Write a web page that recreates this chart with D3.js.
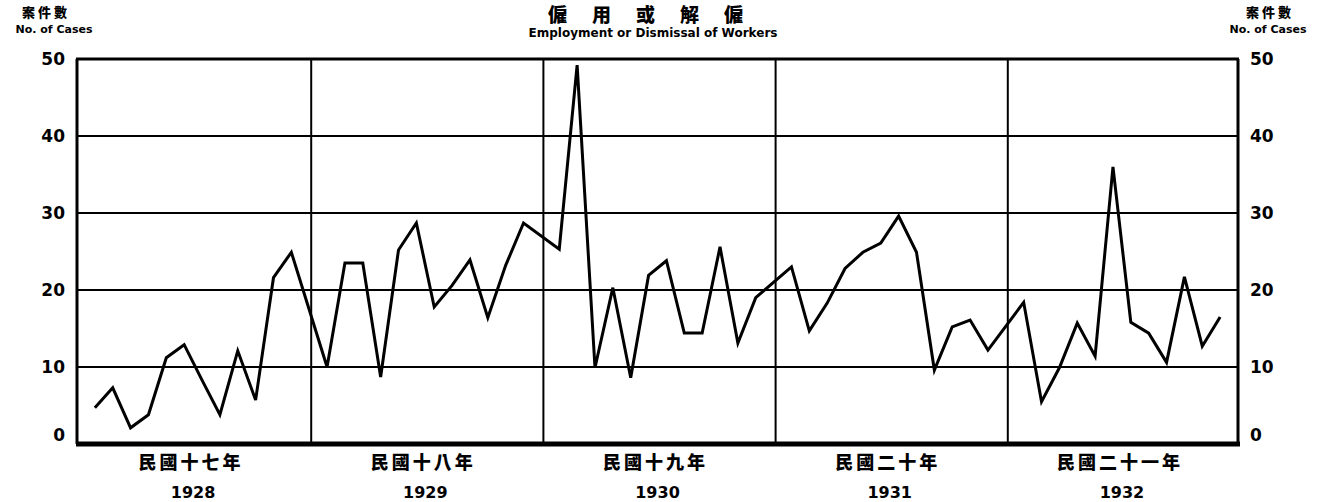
<!DOCTYPE html>
<html>
<head>
<meta charset="utf-8">
<script src="https://cdn.jsdelivr.net/npm/d3@7"></script>
<style>
  body { margin: 0; background: #fff; }
  text { font-family: "DejaVu Sans", sans-serif; font-weight: bold; fill: #000; }
  .cjk { font-family: "Noto Sans CJK TC", "Noto Sans CJK SC", sans-serif; font-weight: 900; }
</style>
</head>
<body>
<script>
var years = [1928, 1929, 1930, 1931, 1932];
var rocLabels = ["民國十七年", "民國十八年", "民國十九年", "民國二十年", "民國二十一年"];
var months = [1, 2, 3, 4, 5, 6, 7, 8, 9, 10, 11, 12];
var yTicks = [0, 10, 20, 30, 40, 50];

// monthly number of cases
var cases1928 = [4.7, 7.3, 2.1, 3.8, 11.2, 12.9, 8.3, 3.8, 12.1, 5.7, 21.6, 24.9];
var cases1929 = [10, 23.5, 23.5, 8.7, 25.2, 28.7, 17.8, 20.6, 23.9, 16.4, 23.2, 28.7];
var cases1930 = [25.3, 49.2, 9.9, 20.3, 8.6, 21.9, 23.8, 14.4, 14.4, 25.6, 13.1, 19];
var cases1931 = [23.0, 14.7, 18.3, 22.8, 24.9, 26.1, 29.6, 24.9, 9.6, 15.2, 16.1, 12.2];
var cases1932 = [18.4, 5.5, 9.9, 15.7, 11.4, 36.0, 15.8, 14.4, 10.6, 21.7, 12.7, 16.5];
var casesByYear = [cases1928, cases1929, cases1930, cases1931, cases1932];

var width = 1318, height = 502;
var margin = { left: 77, right: 1238, top: 59, bottom: 444 };

var svg = d3.select('body')
  .append('svg')
  .attr('width', width)
  .attr('height', height);

svg.append('rect')
  .attr('width', width)
  .attr('height', height)
  .attr('fill', 'white');

var xYear = d3.scaleBand()
  .domain(years)
  .range([margin.left, margin.right])
  .padding(0);

// months sit one step in from each year's edges
var xMonth = d3.scalePoint()
  .domain(months)
  .range([0, xYear.bandwidth()])
  .padding(1);

var y = d3.scaleLinear()
  .domain([0, 50])
  .range([margin.bottom, margin.top]);

var points = [];
years.forEach(function(yr, i) {
  casesByYear[i].forEach(function(v, j) {
    points.push({ year: yr, month: months[j], value: v });
  });
});

// horizontal grid lines
svg.append('g')
  .selectAll('line')
  .data(yTicks.filter(function(d) { return d > 0 && d < 50; }))
  .enter()
  .append('line')
  .attr('x1', margin.left)
  .attr('x2', margin.right)
  .attr('y1', function(d) { return y(d); })
  .attr('y2', function(d) { return y(d); })
  .attr('stroke', 'black')
  .attr('stroke-width', 2);

// year separators
svg.append('g')
  .selectAll('line')
  .data(years.slice(1))
  .enter()
  .append('line')
  .attr('x1', function(d) { return xYear(d) + 2; })
  .attr('x2', function(d) { return xYear(d) + 2; })
  .attr('y1', y(50))
  .attr('y2', y(0))
  .attr('stroke', 'black')
  .attr('stroke-width', 2);

// frame
svg.append('line').attr('x1', margin.left - 1).attr('x2', margin.right + 1).attr('y1', y(50)).attr('y2', y(50))
  .attr('stroke', 'black').attr('stroke-width', 3);
svg.append('line').attr('x1', margin.left - 1).attr('x2', margin.right + 2).attr('y1', y(0)).attr('y2', y(0))
  .attr('stroke', 'black').attr('stroke-width', 5);
svg.append('line').attr('x1', margin.left).attr('x2', margin.left).attr('y1', y(50)).attr('y2', y(0))
  .attr('stroke', 'black').attr('stroke-width', 3);
svg.append('line').attr('x1', margin.right).attr('x2', margin.right).attr('y1', y(50)).attr('y2', y(0))
  .attr('stroke', 'black').attr('stroke-width', 3);

// the data line
var line = d3.line()
  .x(function(d) { return xYear(d.year) + xMonth(d.month); })
  .y(function(d) { return y(d.value); });

svg.append('path')
  .datum(points)
  .attr('d', line)
  .attr('fill', 'none')
  .attr('stroke', 'black')
  .attr('stroke-width', 3)
  .attr('stroke-linejoin', 'miter');

// y axes (labels only)
var leftAxis = d3.axisLeft(y).tickValues(yTicks).tickSize(0).tickPadding(12);
var rightAxis = d3.axisRight(y).tickValues(yTicks).tickSize(0).tickPadding(12);

var la = svg.append('g').attr('transform', 'translate(' + margin.left + ',0)').call(leftAxis);
var ra = svg.append('g').attr('transform', 'translate(' + margin.right + ',0)').call(rightAxis);
[la, ra].forEach(function(g) {
  g.select('.domain').remove();
  g.selectAll('text')
    .style('font', 'bold 17px "DejaVu Sans", sans-serif')
    .attr('dy', function(d) { return d === 0 ? '-0.2em' : '0.3em'; });
});

// x axis: year labels
var xAxis = d3.axisBottom(xYear).tickSize(0).tickFormat('');
var xa = svg.append('g').attr('transform', 'translate(0,' + margin.bottom + ')').call(xAxis);
xa.select('.domain').remove();
xa.selectAll('.tick').each(function(d, i) {
  var t = d3.select(this);
  t.append('text')
    .attr('class', 'cjk')
    .attr('x', -2)
    .attr('y', 25)
    .attr('text-anchor', 'middle')
    .style('font-size', '18px')
    .style('letter-spacing', '3px')
    .text(rocLabels[i]);
  t.append('text')
    .attr('y', 54)
    .attr('text-anchor', 'middle')
    .style('font-size', '16px')
    .text(d);
});

// title
svg.append('text')
  .attr('class', 'cjk')
  .attr('x', 548)
  .attr('y', 22)
  .style('font-size', '19px')
  .style('letter-spacing', '25px')
  .text('僱用或解僱');
svg.append('text')
  .attr('x', 653)
  .attr('y', 37)
  .attr('text-anchor', 'middle')
  .style('font-size', '12px')
  .text('Employment or Dismissal of Workers');

// axis unit labels
[[46, 54], [1270, 1268]].forEach(function(p) {
  svg.append('text')
    .attr('class', 'cjk')
    .attr('x', p[0])
    .attr('y', 17)
    .attr('text-anchor', 'middle')
    .style('font-size', '13px')
    .style('letter-spacing', '3px')
    .text('案件數');
  svg.append('text')
    .attr('x', p[1])
    .attr('y', 33)
    .attr('text-anchor', 'middle')
    .style('font-size', '11px')
    .text('No. of Cases');
});
</script>
</body>
</html>
